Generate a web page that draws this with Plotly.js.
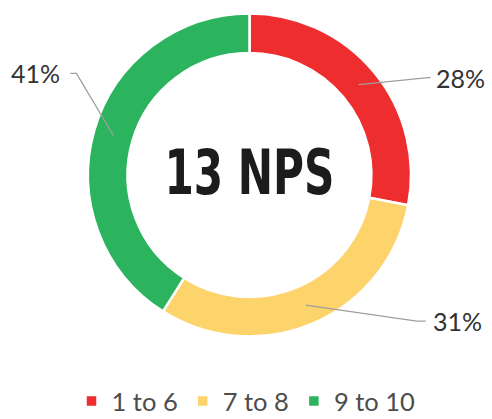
<!DOCTYPE html>
<html>
<head>
<meta charset="utf-8">
<script src="https://cdn.plot.ly/plotly-3.0.1.min.js"></script>
<style>html,body{margin:0;padding:0;background:#fff;}#chart{width:492px;height:419px;}</style>
</head>
<body>
<div id="chart"></div>
<script>
// ---- data ----
const categories = ['1 to 6', '7 to 8', '9 to 10'];
const shares = [28, 31, 41];
const sliceColors = ['#ED2D2E', '#FDD46B', '#2CB35E'];
const centerLabel = '13 NPS';

// ---- layout constants (pixels) ----
const W = 492, H = 419;
const CX = 249.5, CY = 175, R_OUT = 161.5, HOLE = 0.755;
const R_MID = R_OUT * (1 + HOLE) / 2;
const CENTER_TEXT_WIDTH = 170;
// elbow offsets from each slice's anchor, then the short horizontal run
const elbowOffset = [[69, -7], [111, 16], [-37, -62]];
const runLen = [3, 9, -6];
const textGap = [3, 5, -8];

const px = x => x / W;
const py = y => 1 - y / H;

const total = shares.reduce((a, b) => a + b, 0);
let cum = 0;
const shapes = [];
const annotations = [];
shares.forEach((v, i) => {
  const mid = (cum + v / 2) / total * 2 * Math.PI;
  cum += v;
  const ax = CX + R_MID * Math.sin(mid);
  const ay = CY - R_MID * Math.cos(mid);
  const ex = ax + elbowOffset[i][0];
  const ey = ay + elbowOffset[i][1];
  const hx = ex + runLen[i];
  shapes.push({
    type: 'path', xref: 'paper', yref: 'paper',
    path: `M${px(ax)},${py(ay)} L${px(ex)},${py(ey)} L${px(hx)},${py(ey)}`,
    line: {color: '#9e9e9e', width: 1.3}
  });
  const right = runLen[i] > 0;
  annotations.push({
    xref: 'paper', yref: 'paper',
    x: px(hx + textGap[i]), y: py(ey),
    xanchor: right ? 'left' : 'right', yanchor: 'middle',
    text: Math.round(v / total * 100) + '%',
    showarrow: false,
    font: {family: 'Lato', size: 25, color: '#333333'}
  });
});
annotations.push({
  xref: 'paper', yref: 'paper', x: px(CX), y: py(CY - 3),
  xanchor: 'center', yanchor: 'middle', text: centerLabel, showarrow: false,
  font: {family: '"DejaVu Sans Condensed", "DejaVu Sans", sans-serif', size: 62, color: '#1c1c1c', weight: 700}
});

const data = [{
  type: 'pie',
  labels: categories,
  values: shares,
  hole: HOLE,
  sort: false,
  direction: 'clockwise',
  rotation: 0,
  textinfo: 'none',
  hoverinfo: 'skip',
  marker: {colors: sliceColors, line: {color: '#ffffff', width: 2.5}},
  domain: {x: [px(CX - R_OUT), px(CX + R_OUT)], y: [py(CY + R_OUT), py(CY - R_OUT)]}
}];

const layout = {
  width: W, height: H,
  margin: {l: 0, r: 0, t: 0, b: 0, autoexpand: false},
  paper_bgcolor: '#ffffff',
  showlegend: true,
  legend: {
    orientation: 'h', x: 0.5, xanchor: 'center', y: -0.014, yanchor: 'bottom',
    font: {family: 'Lato', size: 25.5, color: '#4d4d4d'},
    itemclick: false, itemdoubleclick: false, traceorder: 'normal'
  },
  shapes: shapes,
  annotations: annotations
};

Plotly.newPlot('chart', data, layout, {displayModeBar: false, staticPlot: true}).then(gd => {
  // condense the centre label to the narrow width of the original typeface
  gd.querySelectorAll('.annotation-text').forEach(t => {
    if (t.textContent === centerLabel) {
      t.setAttribute('textLength', CENTER_TEXT_WIDTH);
      t.setAttribute('lengthAdjust', 'spacingAndGlyphs');
    }
  });
});
</script>
</body>
</html>
